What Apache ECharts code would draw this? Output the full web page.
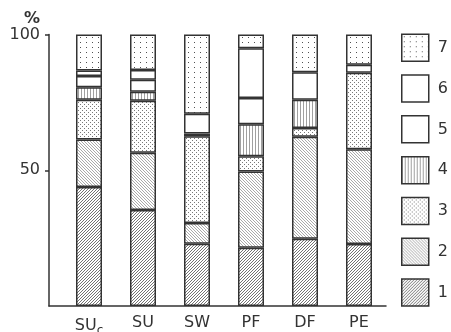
<!DOCTYPE html>
<html>
<head>
<meta charset="utf-8">
<style>
  html, body { margin: 0; padding: 0; background: #fff; }
  #chart { width: 451px; height: 332px; }
</style>
<script src="https://cdn.jsdelivr.net/npm/echarts@6/dist/echarts.min.js"></script>
</head>
<body>
<div id="chart"></div>
<script>
// Site categories along the x axis
const categories = ['SUc', 'SU', 'SW', 'PF', 'DF', 'PE'];

// Share (%) of each class per site, stacked from class 1 at the bottom to class 7 on top
const class1 = [43.8, 35.4, 22.9, 21.5, 24.8, 22.8];
const class2 = [17.5, 21.0, 7.7, 28.0, 37.5, 34.9];
const class3 = [14.7, 19.2, 31.9, 5.7, 3.3, 28.2];
const class4 = [4.6, 3.3, 1.0, 11.7, 10.4, null];
const class5 = [4.1, 4.4, 7.3, 9.7, 10.1, 3.0];
const class6 = [2.0, 3.6, null, 18.3, null, null];
const class7 = [13.3, 13.1, 29.2, 5.1, 13.9, 11.1];

const yTicks = [50, 100];

const FONT = "'DejaVu Sans', sans-serif";
const INK = '#333';

// Fill patterns built pixel by pixel so they tile seamlessly
function makePattern(w, h, test, rgba) {
  const c = document.createElement('canvas');
  c.width = w; c.height = h;
  const ctx = c.getContext('2d');
  ctx.fillStyle = '#fff';
  ctx.fillRect(0, 0, w, h);
  const img = ctx.getImageData(0, 0, w, h);
  for (let y = 0; y < h; y++) {
    for (let x = 0; x < w; x++) {
      if (test(x, y)) {
        const i = (y * w + x) * 4;
        img.data[i] = rgba[0]; img.data[i + 1] = rgba[1];
        img.data[i + 2] = rgba[2]; img.data[i + 3] = 255;
      }
    }
  }
  ctx.putImageData(img, 0, 0);
  return { image: c, repeat: 'repeat' };
}

const fills = {
  '1': makePattern(6, 6, (x, y) => (x + y) % 3 === 0, [115, 115, 115]),
  '2': makePattern(6, 6, (x, y) => ((x - y) % 3 + 3) % 3 === 0, [170, 170, 170]),
  '3': makePattern(4, 4, (x, y) => (x === 0 && y === 0) || (x === 2 && y === 2), [120, 120, 120]),
  '4': makePattern(3, 3, (x, y) => x === 0, [160, 160, 160]),
  '5': '#fff',
  '6': '#fff',
  '7': makePattern(6, 5, (x, y) => x === 2 && y === 2, [80, 80, 80])
};

const classes = [
  ['1', class1], ['2', class2], ['3', class3], ['4', class4],
  ['5', class5], ['6', class6], ['7', class7]
];

const series = classes.map(([name, values]) => ({
  name: name,
  type: 'bar',
  stack: 'total',
  xAxisIndex: 1,
  yAxisIndex: 1,
  barWidth: 26,
  data: values,
  itemStyle: {
    color: fills[name],
    borderColor: INK,
    borderWidth: 1.5
  },
  emphasis: { disabled: true }
}));

const chart = echarts.init(document.getElementById('chart'), null, { renderer: 'canvas' });

chart.setOption({
  backgroundColor: '#fff',
  animation: false,
  grid: [
    // frame carrying the axis lines and percentage scale
    { left: 49, right: 65, top: 34.5, bottom: 26, outerBoundsMode: 'none' },
    // plotting area for the bars
    { left: 62, right: 65, top: 34.5, bottom: 26, outerBoundsMode: 'none' }
  ],
  xAxis: [
    {
      gridIndex: 0, type: 'value', min: 0, max: 1,
      axisLine: { show: true, lineStyle: { color: INK, width: 1.5 } },
      axisTick: { show: false }, axisLabel: { show: false }, splitLine: { show: false }
    },
    {
      gridIndex: 1, type: 'category', data: categories,
      axisLine: { show: false }, axisTick: { show: false },
      axisLabel: {
        interval: 0,
        margin: 9,
        color: INK,
        fontFamily: FONT,
        fontSize: 16,
        formatter: v => v === 'SUc' ? 'SU{sub|c}' : v,
        rich: {
          sub: { fontFamily: FONT, fontSize: 12, color: INK, padding: [10, 0, 0, 0] }
        }
      }
    }
  ],
  yAxis: [
    {
      gridIndex: 0, type: 'value', min: 0, max: 100,
      name: '%',
      nameLocation: 'end',
      nameGap: 8,
      nameTextStyle: {
        fontFamily: FONT, fontSize: 16, fontWeight: 'bold', color: INK,
        align: 'right', verticalAlign: 'bottom', padding: [0, 9, 0, 0]
      },
      axisLine: { show: true, lineStyle: { color: INK, width: 1.5 } },
      axisTick: { show: true, customValues: yTicks, length: 4, inside: false, lineStyle: { color: INK, width: 1.5 } },
      axisLabel: {
        customValues: yTicks, margin: 9, color: INK,
        fontFamily: FONT, fontSize: 16
      },
      splitLine: { show: false }
    },
    {
      gridIndex: 1, type: 'value', min: 0, max: 100, show: false
    }
  ],
  legend: {
    data: ['7', '6', '5', '4', '3', '2', '1'],
    orient: 'vertical',
    left: 401,
    top: 33.5,
    padding: 0,
    itemWidth: 27,
    itemHeight: 27,
    itemGap: 12.3,
    icon: 'rect',
    itemStyle: { borderColor: INK, borderWidth: 1.5 },
    textStyle: { fontFamily: FONT, fontSize: 16, color: INK, padding: [0, 0, 0, 4] },
    selectedMode: false
  },
  series: series
});
</script>
</body>
</html>
